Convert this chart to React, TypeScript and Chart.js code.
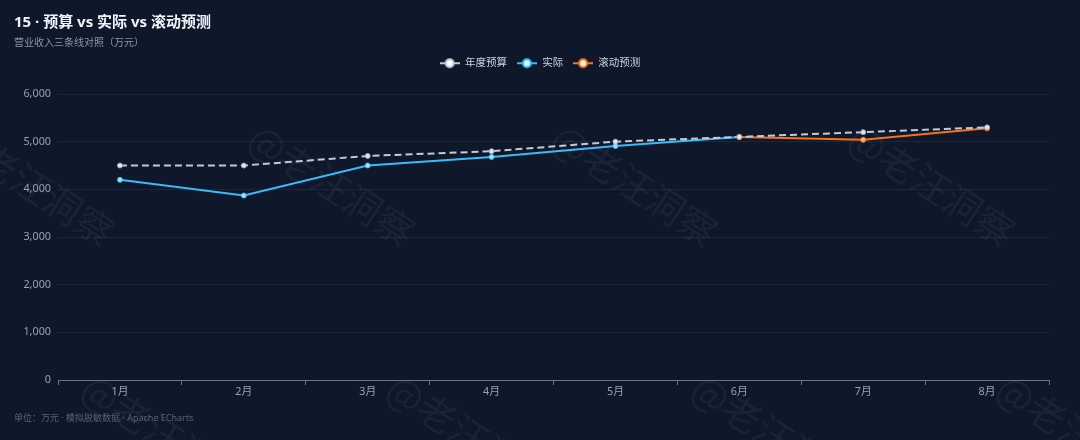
import React, { useEffect, useRef } from 'react';
import { Chart, registerables } from 'chart.js';

Chart.register(...registerables);

// ---- data ----
const months = ['1月', '2月', '3月', '4月', '5月', '6月', '7月', '8月'];
const seriesNames = ['年度预算', '实际', '滚动预测'];
const budget = [4500, 4500, 4700, 4800, 5000, 5100, 5200, 5300];
const actual: (number | null)[] = [4200, 3870, 4500, 4680, 4910, 5100, null, null];
const forecast: (number | null)[] = [null, null, null, null, null, 5100, 5040, 5280];
const yMax = 6000;
const yStep = 1000;

const FONT = '"Noto Sans", "Noto Sans CJK SC", sans-serif';
const BG = '#0f172a';
const C_BUDGET = '#c3cad6';
const C_ACTUAL = '#38bdf8';
const C_FORECAST = '#f97316';

const WATERMARK = '@老汪洞察';
const wmCenters: [number, number][] = [
  [-33, 143], [267, 143], [570, 143], [867, 143],
  [100, 393], [405, 393], [710, 393], [1015, 393],
];

function makeIcon(color: string, fill: string) {
  const c = document.createElement('canvas');
  c.width = 20;
  c.height = 12;
  const g = c.getContext('2d')!;
  g.strokeStyle = color;
  g.lineWidth = 2;
  g.beginPath();
  g.moveTo(0, 6);
  g.lineTo(20, 6);
  g.stroke();
  g.beginPath();
  g.arc(10, 6, 4, 0, Math.PI * 2);
  g.fillStyle = fill;
  g.fill();
  g.lineWidth = 2;
  g.stroke();
  return c;
}

const watermarkPlugin = {
  id: 'watermark',
  beforeDraw(chart: any) {
    const ctx = chart.ctx as CanvasRenderingContext2D;
    ctx.save();
    ctx.font = `38px "Noto Sans CJK SC", sans-serif`;
    ctx.fillStyle = 'rgba(160,174,196,0.08)';
    ctx.textBaseline = 'middle';
    ctx.textAlign = 'left';
    const a = (33 * Math.PI) / 180;
    for (const [cx, cy] of wmCenters) {
      ctx.save();
      ctx.translate(cx - 17 * Math.cos(a), cy - 17 * Math.sin(a));
      ctx.rotate(a);
      ctx.fillText(WATERMARK, 0, 0);
      ctx.restore();
    }
    ctx.restore();
  },
};

const PAD_L = 14;
const PAD_R = 31;

const legendPlugin = {
  id: 'legendAdjust',
  afterInit(chart: any) {
    const l = chart.legend;
    if (l && !l.__patched) {
      const f = l.fit;
      l.fit = function () {
        f.call(this);
        this.height += 15.5;
      };
      l.__patched = true;
    }
  },
  afterLayout(chart: any) {
    const l = chart.legend;
    if (l) {
      // center legend on the whole canvas
      const shift = (PAD_R - PAD_L) / 2;
      l.left += shift;
      l.right += shift;
      if (l.adjustHitBoxes) l.adjustHitBoxes();
    }
  },
};

export default function App() {
  const ref = useRef<HTMLCanvasElement | null>(null);

  useEffect(() => {
    document.body.style.margin = '0';
    document.body.style.background = BG;
    const icons = [makeIcon(C_BUDGET, '#ffffff'), makeIcon(C_ACTUAL, '#e0f6ff'), makeIcon(C_FORECAST, '#fff1e6')];
    const chart = new Chart(ref.current!, {
      type: 'line',
      data: {
        labels: months,
        datasets: [
          {
            label: seriesNames[0],
            data: budget,
            borderColor: C_BUDGET,
            borderWidth: 2,
            borderDash: [7, 4],
            pointRadius: 2.5,
            pointBackgroundColor: '#e5e9ef',
            pointBorderColor: '#9aa4b3',
            pointBorderWidth: 1,
            tension: 0,
            order: 0,
          },
          {
            label: seriesNames[1],
            data: actual,
            borderColor: C_ACTUAL,
            borderWidth: 2,
            pointRadius: 2.5,
            pointBackgroundColor: '#9be3ff',
            pointBorderColor: C_ACTUAL,
            pointBorderWidth: 1,
            tension: 0,
            order: 2,
          },
          {
            label: seriesNames[2],
            data: forecast,
            borderColor: C_FORECAST,
            borderWidth: 2,
            pointRadius: 2.5,
            pointBackgroundColor: '#ffb27a',
            pointBorderColor: C_FORECAST,
            pointBorderWidth: 1,
            tension: 0,
            order: 1,
          },
        ],
      },
      options: {
        animation: false,
        responsive: false,
        layout: { padding: { left: PAD_L, right: PAD_R, top: 48, bottom: 0 } },
        plugins: {
          tooltip: { enabled: false },
          legend: {
            position: 'top',
            align: 'center',
            labels: {
              usePointStyle: true,
              pointStyleWidth: 20,
              boxHeight: 10.5,
              padding: 10,
              color: '#cbd5e1',
              font: { family: FONT, size: 10.5 },
              generateLabels(ch: any) {
                const items = Chart.defaults.plugins.legend.labels.generateLabels(ch);
                return items
                  .slice()
                  .sort((a: any, b: any) => a.datasetIndex - b.datasetIndex)
                  .map((it: any) => ({
                    ...it,
                    pointStyle: icons[it.datasetIndex],
                    fontColor: '#cbd5e1',
                    lineDash: [],
                  }));
              },
            },
          },
        },
        scales: {
          x: {
            offset: true,
            grid: {
              offset: true,
              drawOnChartArea: false,
              drawTicks: true,
              tickLength: 5,
              color: '#6b7587',
            },
            border: { display: true, color: '#6b7587', width: 1 },
            ticks: {
              color: '#94a3b8',
              padding: 0,
              font: { family: FONT, size: 10.8 },
              maxRotation: 0,
            },
            afterFit(s: any) {
              s.height = 60;
            },
          },
          y: {
            min: 0,
            max: yMax,
            grid: { color: 'rgba(148,163,184,0.11)', drawTicks: false },
            border: { display: false },
            ticks: {
              stepSize: yStep,
              padding: 7,
              color: '#94a3b8',
              font: { family: FONT, size: 10.8 },
              callback: (v: any) => Number(v).toLocaleString('en-US'),
            },
            afterFit(s: any) {
              s.width = 58 - PAD_L;
            },
          },
        },
      },
      plugins: [watermarkPlugin, legendPlugin],
    } as any);
    return () => chart.destroy();
  }, []);

  return (
    <div
      style={{
        position: 'absolute',
        left: 0,
        top: 0,
        width: 1080,
        height: 440,
        background: BG,
        overflow: 'hidden',
        fontFamily: FONT,
      }}
    >
      <canvas ref={ref} width={1080} height={440} style={{ position: 'absolute', left: 0, top: 0, width: 1080, height: 440, display: 'block' }} />
      <div
        style={{
          position: 'absolute',
          left: 14,
          top: 12,
          fontSize: 15,
          lineHeight: '18px',
          fontWeight: 700,
          color: '#f1f5f9',
          whiteSpace: 'nowrap',
        }}
      >
        15 · 预算 vs 实际 vs 滚动预测
      </div>
      <div
        style={{
          position: 'absolute',
          left: 14,
          top: 35,
          fontSize: 10,
          lineHeight: '14px',
          color: '#8b97a9',
          whiteSpace: 'nowrap',
        }}
      >
        营业收入三条线对照（万元）
      </div>
      <div
        style={{
          position: 'absolute',
          left: 14,
          top: 412,
          fontSize: 9,
          lineHeight: '12px',
          color: '#56647b',
          whiteSpace: 'nowrap',
        }}
      >
        单位：万元 · 模拟脱敏数据 · Apache ECharts
      </div>
    </div>
  );
}
